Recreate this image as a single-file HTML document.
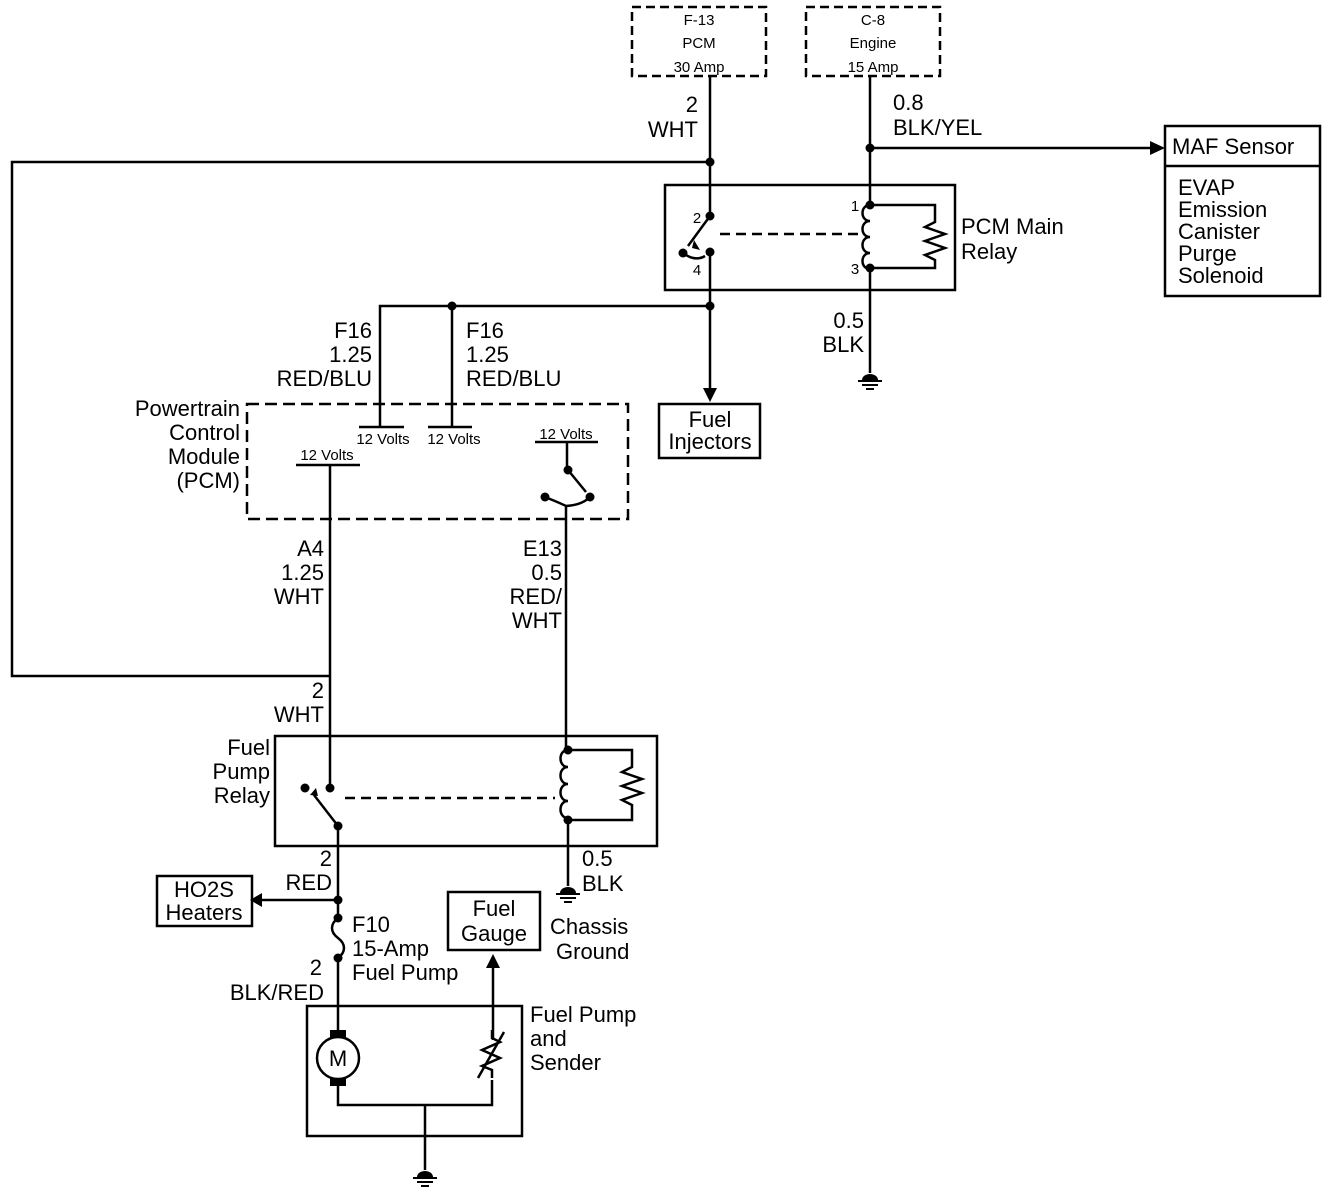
<!DOCTYPE html>
<html><head><meta charset="utf-8"><style>
html,body{margin:0;padding:0;background:#fff;}
svg{display:block;}
text{font-family:"Liberation Sans",sans-serif;fill:#000;}
.t{font-size:22px;}
.s{font-size:15px;}
</style></head><body>
<svg width="1344" height="1196" viewBox="0 0 1344 1196" xmlns="http://www.w3.org/2000/svg">
<g fill="none" stroke="#000" stroke-width="2.5">
<!-- fuse boxes -->
<rect x="632" y="7" width="134" height="69" stroke-dasharray="9,5"/>
<rect x="806" y="7" width="134" height="69" stroke-dasharray="9,5"/>
<!-- WHT wire -->
<polyline points="710,76 710,216"/>
<polyline points="710,162 12,162 12,676 330,676"/>
<!-- C-8 wire -->
<polyline points="870,76 870,205"/>
<line x1="870" y1="148" x2="1150" y2="148"/>
<!-- MAF box -->
<rect x="1165" y="126" width="155" height="170"/>
<line x1="1165" y1="166" x2="1320" y2="166"/>
<!-- PCM main relay -->
<rect x="665" y="185" width="290" height="105"/>
<line x1="710" y1="216" x2="688" y2="246"/>
<path d="M683,253 Q695,262 705,256"/>
<line x1="710" y1="252" x2="710" y2="390"/>
<line x1="720" y1="234" x2="862" y2="234" stroke-dasharray="10,6"/>
<path d="M870,205 c-10,0 -10,16 0,16 c-10,0 -10,16 0,16 c-10,0 -10,16 0,16 c-10,0 -10,16 0,16"/>
<polyline points="870,205 935,205 935,222 925,227 945,234 925,241 945,248 925,255 935,260 935,268 870,268"/>
<line x1="870" y1="268" x2="870" y2="373"/>
<!-- injector/PCM feed -->
<polyline points="380,427 380,306 710,306"/>
<line x1="452" y1="306" x2="452" y2="427"/>
<rect x="659" y="404" width="101" height="54"/>
<!-- PCM module -->
<rect x="247" y="404" width="381" height="115" stroke-dasharray="12,6"/>
<line x1="359" y1="427" x2="404" y2="427"/>
<line x1="428" y1="427" x2="472" y2="427"/>
<line x1="535" y1="442" x2="598" y2="442"/>
<line x1="296" y1="465" x2="360" y2="465"/>
<line x1="567" y1="442" x2="567" y2="469"/>
<line x1="568" y1="470" x2="586" y2="492"/>
<path d="M545,497 Q560,503 566,506 L566,748"/>
<path d="M566,506 Q582,505 590,497"/>
<line x1="330" y1="465" x2="330" y2="786"/>
<!-- fuel pump relay -->
<rect x="275" y="736" width="382" height="110"/>
<line x1="338" y1="826" x2="314" y2="795"/>
<line x1="345" y1="798" x2="555" y2="798" stroke-dasharray="10,6"/>
<path d="M568,750 c-10,0 -10,17 0,17 c-10,0 -10,17 0,17 c-10,0 -10,17 0,17 c-10,0 -10,17 0,17"/>
<polyline points="568,750 632,750 632,767 622,772 642,779 622,786 642,793 622,800 632,805 632,820 568,820"/>
<line x1="568" y1="820" x2="568" y2="886"/>
<line x1="338" y1="826" x2="338" y2="918"/>
<line x1="338" y1="900" x2="262" y2="900"/>
<rect x="157" y="876" width="95" height="50"/>
<path d="M338,918 c-8,6 -8,14 0,20 c8,6 8,14 0,20"/>
<line x1="338" y1="958" x2="338" y2="1032"/>
<rect x="448" y="892" width="92" height="58"/>
<line x1="493" y1="1040" x2="493" y2="968"/>
<!-- fuel pump & sender -->
<rect x="307" y="1006" width="215" height="130"/>
<circle cx="338" cy="1058" r="21"/>
<polyline points="338,1086 338,1105 492,1105 492,1080"/>
<polyline points="492,1078 492,1070 482,1066 500,1058 482,1050 500,1042 492,1038 492,1030"/>
<line x1="478" y1="1078" x2="504" y2="1032"/>
<line x1="425" y1="1105" x2="425" y2="1170"/>
</g>
<g fill="#000">
<polygon points="1150,141 1165,148 1150,155"/>
<polygon points="703,388 710,402 717,388"/>
<polygon points="262,893 250,900 262,907"/>
<polygon points="486,968 493,954 500,968"/>
<polygon points="700,250 692,248 694,240"/>
<polygon points="318,796 316,788 310,795"/>
<circle cx="710" cy="162" r="4.5"/><circle cx="870" cy="148" r="4.5"/>
<circle cx="710" cy="216" r="4.5"/><circle cx="710" cy="252" r="4.5"/><circle cx="683" cy="253" r="4.5"/>
<circle cx="870" cy="205" r="4.5"/><circle cx="870" cy="268" r="4.5"/>
<circle cx="452" cy="306" r="4.5"/><circle cx="710" cy="306" r="4.5"/>
<circle cx="568" cy="470" r="4.5"/><circle cx="590" cy="497" r="4.5"/><circle cx="545" cy="497" r="4.5"/>
<circle cx="330" cy="788" r="4.5"/><circle cx="305" cy="788" r="4.5"/><circle cx="338" cy="826" r="4.5"/>
<circle cx="568" cy="750" r="4.5"/><circle cx="568" cy="820" r="4.5"/>
<circle cx="338" cy="900" r="4.5"/><circle cx="338" cy="918" r="4.5"/><circle cx="338" cy="958" r="4.5"/>
<rect x="330" y="1030" width="16" height="8"/><rect x="330" y="1078" width="16" height="8"/>
<!-- grounds -->
<path d="M862,380 a8,6 0 0 1 16,0z"/>
<path d="M560,893 a8,6 0 0 1 16,0z"/>
<path d="M417,1177 a8,6 0 0 1 16,0z"/>
</g>
<g stroke="#000" stroke-width="2">
<line x1="858" y1="381" x2="882" y2="381"/><line x1="862" y1="385" x2="878" y2="385"/><line x1="866" y1="389" x2="874" y2="389"/>
<line x1="556" y1="894" x2="580" y2="894"/><line x1="560" y1="898" x2="576" y2="898"/><line x1="564" y1="902" x2="572" y2="902"/>
<line x1="413" y1="1178" x2="437" y2="1178"/><line x1="417" y1="1182" x2="433" y2="1182"/><line x1="421" y1="1186" x2="429" y2="1186"/>
</g>
<!-- text -->
<g class="s" text-anchor="middle">
<text x="699" y="25">F-13</text><text x="699" y="48">PCM</text><text x="699" y="72">30 Amp</text>
<text x="873" y="25">C-8</text><text x="873" y="48">Engine</text><text x="873" y="72">15 Amp</text>
<text x="383" y="444">12 Volts</text><text x="454" y="444">12 Volts</text>
<text x="566" y="439">12 Volts</text><text x="327" y="460">12 Volts</text>
<text x="697" y="223">2</text><text x="697" y="275">4</text><text x="855" y="211">1</text><text x="855" y="274">3</text>
</g>
<g class="t">
<g text-anchor="end">
<text x="698" y="112">2</text><text x="698" y="137">WHT</text>
<text x="372" y="338">F16</text><text x="372" y="362">1.25</text><text x="372" y="386">RED/BLU</text>
<text x="240" y="416">Powertrain</text><text x="240" y="440">Control</text><text x="240" y="464">Module</text><text x="240" y="488">(PCM)</text>
<text x="864" y="328">0.5</text><text x="864" y="352">BLK</text>
<text x="324" y="556">A4</text><text x="324" y="580">1.25</text><text x="324" y="604">WHT</text>
<text x="562" y="556">E13</text><text x="562" y="580">0.5</text><text x="562" y="604">RED/</text><text x="562" y="628">WHT</text>
<text x="324" y="698">2</text><text x="324" y="722">WHT</text>
<text x="270" y="755">Fuel</text><text x="270" y="779">Pump</text><text x="270" y="803">Relay</text>
<text x="332" y="866">2</text><text x="332" y="890">RED</text>
<text x="322" y="975">2</text><text x="324" y="1000">BLK/RED</text>
</g>
<text x="893" y="110">0.8</text><text x="893" y="135">BLK/YEL</text>
<text x="1172" y="154">MAF Sensor</text>
<text x="1178" y="195">EVAP</text><text x="1178" y="217">Emission</text><text x="1178" y="239">Canister</text><text x="1178" y="261">Purge</text><text x="1178" y="283">Solenoid</text>
<text x="961" y="234">PCM Main</text><text x="961" y="259">Relay</text>
<text x="466" y="338">F16</text><text x="466" y="362">1.25</text><text x="466" y="386">RED/BLU</text>
<text x="582" y="866">0.5</text><text x="582" y="891">BLK</text>
<text x="550" y="934">Chassis</text><text x="556" y="959">Ground</text>
<text x="352" y="932">F10</text><text x="352" y="956">15-Amp</text><text x="352" y="980">Fuel Pump</text>
<text x="530" y="1022">Fuel Pump</text><text x="530" y="1046">and</text><text x="530" y="1070">Sender</text>
<g text-anchor="middle">
<text x="710" y="427">Fuel</text><text x="710" y="449">Injectors</text>
<text x="204" y="897">HO2S</text><text x="204" y="920">Heaters</text>
<text x="494" y="916">Fuel</text><text x="494" y="941">Gauge</text>
<text x="338" y="1066">M</text>
</g>
</g>
</svg>
</body></html>
